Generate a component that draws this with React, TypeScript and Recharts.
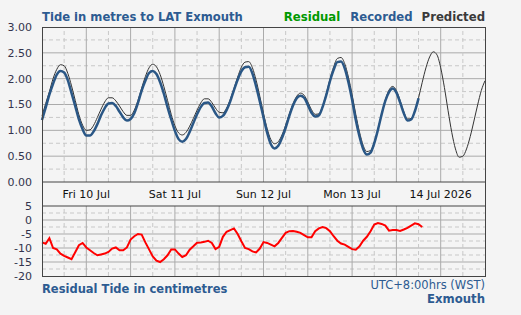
import { Line, LineChart, ReferenceLine, XAxis, YAxis } from "recharts";

// hourly values from Fri 10 Jul 00:00 (index = hour)
const predicted = [
  1.28, 1.52, 1.75, 2.0, 2.18, 2.27, 2.25, 2.1, 1.86, 1.58, 1.3, 1.1, 1.0, 1.01, 1.1, 1.25,
  1.41, 1.55, 1.63, 1.63, 1.57, 1.47, 1.36, 1.29, 1.29, 1.39, 1.58, 1.82, 2.04, 2.21, 2.28,
  2.23, 2.08, 1.85, 1.58, 1.31, 1.09, 0.95, 0.91, 0.96, 1.08, 1.23, 1.39, 1.53, 1.61, 1.61,
  1.54, 1.43, 1.35, 1.34, 1.43, 1.6, 1.81, 2.03, 2.22, 2.32, 2.33, 2.21, 1.97, 1.66, 1.33,
  1.03, 0.82, 0.74, 0.78, 0.91, 1.1, 1.32, 1.52, 1.66, 1.72, 1.68, 1.55, 1.4, 1.31, 1.32,
  1.47, 1.71, 1.99, 2.23, 2.39, 2.41, 2.29, 2.03, 1.69, 1.31, 0.97, 0.71, 0.59, 0.61, 0.77,
  1.02, 1.32, 1.59, 1.78, 1.85, 1.77, 1.58, 1.36, 1.22, 1.23, 1.38, 1.63, 1.93, 2.21, 2.42,
  2.52, 2.46, 2.21, 1.83, 1.38, 0.96, 0.64, 0.48, 0.5, 0.64, 0.88, 1.18, 1.49, 1.77, 1.96,
];

const recorded = [
  1.2, 1.44, 1.69, 1.9, 2.08, 2.15, 2.12, 1.97, 1.72, 1.47, 1.21, 1.02, 0.9, 0.9, 0.98, 1.12,
  1.29, 1.43, 1.52, 1.53, 1.47, 1.36, 1.25, 1.19, 1.22, 1.33, 1.53, 1.77, 1.96, 2.11, 2.15,
  2.09, 1.93, 1.71, 1.45, 1.21, 0.99, 0.83, 0.78, 0.83, 0.97, 1.14, 1.31, 1.45, 1.53, 1.54,
  1.46, 1.33, 1.25, 1.28, 1.39, 1.56, 1.78, 1.98, 2.14, 2.22, 2.23, 2.1, 1.85, 1.56, 1.25,
  0.95, 0.73, 0.65, 0.7, 0.85, 1.05, 1.28, 1.48, 1.62, 1.67, 1.63, 1.49, 1.34, 1.27, 1.29,
  1.45, 1.68, 1.95, 2.17, 2.32, 2.33, 2.2, 1.93, 1.59, 1.2, 0.88, 0.64, 0.53, 0.57, 0.75,
  1.01, 1.31, 1.57, 1.74, 1.81, 1.73, 1.54, 1.33, 1.19, 1.21, 1.37, 1.62,
];

// residual in cm
const residual = [
  -8, -8.5, -6.5, -10, -10.5, -12, -12.8, -13.4, -14, -11.5, -9, -8.2, -9.8, -10.8, -11.8,
  -12.6, -12.3, -12, -11.4, -10.2, -9.8, -10.8, -10.8, -9.8, -7, -5.8, -5, -5.2, -8, -10.5,
  -13, -14.5, -15, -14, -12.6, -10.5, -10.5, -12, -13.2, -12.6, -10.6, -9.4, -8.1, -8, -7.8,
  -7.4, -8.2, -10.4, -9.6, -6, -4.2, -3.6, -3, -5, -7.6, -10, -10.4, -11.2, -11.6, -10.2,
  -7.9, -8.2, -8.8, -9.4, -8.2, -6.4, -4.6, -4, -3.9, -4.2, -4.6, -5.4, -6.2, -6.2, -4, -3,
  -2.5, -2.9, -4, -5.8, -7.4, -8.4, -8.8, -9.6, -10.4, -10.6, -9.4, -7.4, -6, -4, -1.6, -1.1,
  -1.4, -2, -3.8, -3.6, -3.6, -3.9, -3.4, -2.8, -2, -1.2, -1.5, -2.5,
];

const dayTicks = [12, 36, 60, 84, 108];
const dayLabels = ["Fri 10 Jul", "Sat 11 Jul", "Sun 12 Jul", "Mon 13 Jul", "14 Jul 2026"];
const majorHours = [12, 24, 36, 48, 60, 72, 84, 96, 108];
const minorHours = [6, 18, 30, 42, 54, 66, 78, 90, 102, 114];

const tideTicks = [0, 0.5, 1, 1.5, 2, 2.5, 3];
const tideMajor = [0.5, 1, 1.5, 2, 2.5];
const tideMinor = [0.25, 0.75, 1.25, 1.75, 2.25, 2.75];

const resTicks = [5, 0, -5, -10, -15, -20];
const resMajor = [0, -5, -10, -15];
const resMinor = [2.5, -2.5, -7.5, -12.5, -17.5];

const rows = predicted.map((p, h) => ({
  h,
  predicted: p,
  recorded: recorded[h],
  residual: residual[h],
}));

const FONT = "'DejaVu Sans', Verdana, sans-serif";
const BLUE = "#2d5b91";
const TICK = { fill: "#33334d", fontSize: 11, fontFamily: FONT };
const MAJOR = "#aaaaaa";
const MINOR = "#c8c8c8";

const gridLines = (yId: string, major: number[], minor: number[]) => [
  ...minor.map((v) => (
    <ReferenceLine key={`hm${v}`} yAxisId={yId} y={v} stroke={MINOR} strokeDasharray="4 3" />
  )),
  ...major.map((v) => (
    <ReferenceLine key={`hM${v}`} yAxisId={yId} y={v} stroke={MAJOR} />
  )),
  ...minorHours.map((v) => (
    <ReferenceLine key={`vm${v}`} yAxisId={yId} x={v} stroke={MINOR} strokeDasharray="4 3" />
  )),
  ...majorHours.map((v) => (
    <ReferenceLine key={`vM${v}`} yAxisId={yId} x={v} stroke={MAJOR} />
  )),
];

export default function App() {
  return (
    <div
      style={{
        position: "absolute",
        left: 0,
        top: 0,
        width: 521,
        height: 315,
        background: "#f4f4f4",
        fontFamily: FONT,
        overflow: "hidden",
      }}
    >
      <div style={{ position: "absolute", left: 0, top: 0 }}>
        <LineChart width={521} height={206} data={rows} margin={{ top: 27, right: 0, bottom: 0, left: 0 }}>
          <XAxis
            type="number"
            dataKey="h"
            domain={[0, 120]}
            ticks={dayTicks}
            interval={0}
            tickFormatter={(v) => dayLabels[dayTicks.indexOf(v)]}
            height={24}
            axisLine={false}
            tickLine={false}
            tick={{ fill: "#111", fontSize: 11, fontFamily: FONT }}
          />
          <YAxis
            yAxisId="l"
            domain={[0, 3]}
            ticks={tideTicks}
            interval={0}
            width={42}
            axisLine={false}
            tickLine={false}
            tickSize={0}
            tickMargin={10}
            tick={TICK}
            tickFormatter={(v) => v.toFixed(2)}
          />
          <YAxis
            yAxisId="r"
            orientation="right"
            domain={[0, 3]}
            ticks={tideTicks}
            interval={0}
            width={36}
            axisLine={false}
            tickLine={false}
            tickSize={0}
            tickMargin={6}
            tick={TICK}
            tickFormatter={(v) => v.toFixed(2)}
          />
          {gridLines("l", tideMajor, tideMinor)}
          <ReferenceLine yAxisId="l" y={0} stroke="#444" />
          <Line
            yAxisId="l"
            dataKey="predicted"
            type="monotone"
            stroke="#333"
            strokeWidth={1}
            dot={false}
            isAnimationActive={false}
          />
          <Line
            yAxisId="l"
            dataKey="recorded"
            type="monotone"
            stroke="#2a5786"
            strokeWidth={2.5}
            dot={false}
            isAnimationActive={false}
          />
        </LineChart>
      </div>

      <div style={{ position: "absolute", left: 0, top: 196 }}>
        <LineChart width={521} height={119} data={rows} margin={{ top: 10, right: 0, bottom: 39, left: 0 }}>
          <XAxis type="number" dataKey="h" domain={[0, 120]} hide />
          <YAxis
            yAxisId="l"
            domain={[-20, 5]}
            ticks={resTicks}
            interval={0}
            width={42}
            axisLine={false}
            tickLine={false}
            tickSize={0}
            tickMargin={10}
            tick={TICK}
          />
          <YAxis
            yAxisId="r"
            orientation="right"
            domain={[-20, 5]}
            ticks={resTicks}
            interval={0}
            width={36}
            axisLine={false}
            tickLine={false}
            tickSize={0}
            tickMargin={6}
            tick={TICK}
          />
          {gridLines("l", resMajor, resMinor)}
          <ReferenceLine yAxisId="l" y={5} stroke="#444" />
          <Line
            yAxisId="l"
            dataKey="residual"
            type="linear"
            stroke="#ff0000"
            strokeWidth={2}
            dot={false}
            isAnimationActive={false}
          />
        </LineChart>
      </div>

      {/* frame */}
      <div
        style={{
          position: "absolute",
          left: 42,
          top: 27,
          width: 444,
          height: 250,
          border: "1px solid #444",
          boxSizing: "border-box",
          pointerEvents: "none",
        }}
      />

      <div
        style={{
          position: "absolute",
          left: 42,
          top: 11,
          fontSize: 11.6,
          lineHeight: "12px",
          fontWeight: "bold",
          color: BLUE,
          whiteSpace: "nowrap",
        }}
      >
        Tide in metres to LAT Exmouth
      </div>
      <div
        style={{
          position: "absolute",
          right: 36,
          top: 11,
          fontSize: 11.7,
          lineHeight: "12px",
          fontWeight: "bold",
          whiteSpace: "nowrap",
        }}
      >
        <span style={{ color: "#009900" }}>Residual</span>
        <span style={{ color: BLUE, marginLeft: 10 }}>Recorded</span>
        <span style={{ color: "#3a3a3a", marginLeft: 9 }}>Predicted</span>
      </div>

      <div
        style={{
          position: "absolute",
          left: 42,
          top: 283,
          fontSize: 11.5,
          lineHeight: "12px",
          fontWeight: "bold",
          color: BLUE,
          whiteSpace: "nowrap",
        }}
      >
        Residual Tide in centimetres
      </div>
      <div
        style={{
          position: "absolute",
          right: 36,
          top: 280,
          fontSize: 11.5,
          lineHeight: "11.5px",
          color: BLUE,
          whiteSpace: "nowrap",
        }}
      >
        UTC+8:00hrs (WST)
      </div>
      <div
        style={{
          position: "absolute",
          right: 36,
          top: 293,
          fontSize: 11.7,
          lineHeight: "12px",
          fontWeight: "bold",
          color: BLUE,
          whiteSpace: "nowrap",
        }}
      >
        Exmouth
      </div>
    </div>
  );
}
